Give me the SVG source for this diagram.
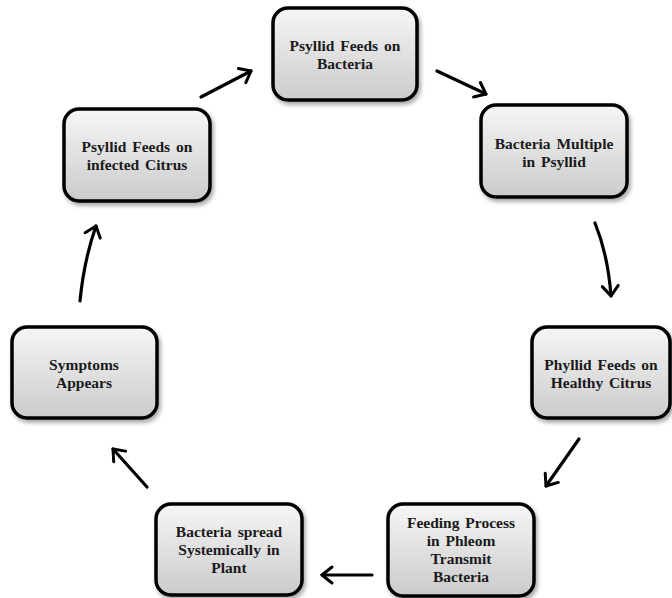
<svg xmlns="http://www.w3.org/2000/svg" width="672" height="598" viewBox="0 0 672 598">
<defs>
<linearGradient id="g" x1="0" y1="0" x2="0" y2="1">
<stop offset="0" stop-color="#f6f6f6"/>
<stop offset="1" stop-color="#cbcbcb"/>
</linearGradient>
<filter id="sh" x="-10%" y="-10%" width="130%" height="130%">
<feDropShadow dx="2" dy="3" stdDeviation="2" flood-color="#000" flood-opacity="0.35"/>
</filter>
<marker id="ah" markerWidth="10" markerHeight="10" refX="8" refY="5" orient="auto" markerUnits="userSpaceOnUse" viewBox="0 0 10 10" overflow="visible">
<path d="M-2,-3 L8,5 L-2,13" fill="none" stroke="#000" stroke-width="3" stroke-linecap="round" stroke-linejoin="round"/>
</marker>
</defs>
<style>
.box{fill:url(#g);stroke:#000;stroke-width:3.5;filter:url(#sh)}
.t{font-family:"Liberation Serif","Times New Roman",serif;font-weight:bold;font-size:15.5px;fill:#1a1a1a;text-anchor:middle;word-spacing:2px}
.c{fill:none;stroke:#000;stroke-width:3.2;stroke-linecap:round;marker-end:url(#ah)}
</style>
<rect width="672" height="598" fill="#fff"/>
<g id="connectors">
<path class="c" d="M201,97 L251,71"/>
<path class="c" d="M437,71 L486,94"/>
<path class="c" d="M595,223 Q608,255 611,296"/>
<path class="c" d="M579,439 L546,486"/>
<path class="c" d="M372,575 L322,575"/>
<path class="c" d="M147,487 L113,449"/>
<path class="c" d="M80,301 Q84,260 96,226"/>
</g>
<g id="n1">
<rect class="box" x="273" y="8" width="144" height="92" rx="15"/>
<text class="t" x="345" y="51">Psyllid Feeds on</text>
<text class="t" x="345" y="69">Bacteria</text>
</g>
<g id="n2">
<rect class="box" x="481" y="105" width="146" height="92" rx="15"/>
<text class="t" x="554" y="149">Bacteria Multiple</text>
<text class="t" x="554" y="167">in Psyllid</text>
</g>
<g id="n3">
<rect class="box" x="532" y="327" width="138" height="91" rx="15"/>
<text class="t" x="601" y="370">Phyllid Feeds on</text>
<text class="t" x="601" y="388">Healthy Citrus</text>
</g>
<g id="n4">
<rect class="box" x="388" y="504" width="146" height="92" rx="15"/>
<text class="t" x="461" y="528">Feeding Process</text>
<text class="t" x="461" y="546">in Phleom</text>
<text class="t" x="461" y="564">Transmit</text>
<text class="t" x="461" y="582">Bacteria</text>
</g>
<g id="n5">
<rect class="box" x="156" y="504" width="146" height="91" rx="15"/>
<text class="t" x="229" y="537">Bacteria spread</text>
<text class="t" x="229" y="555">Systemically in</text>
<text class="t" x="229" y="573">Plant</text>
</g>
<g id="n6">
<rect class="box" x="12" y="327" width="145" height="91" rx="15"/>
<text class="t" x="84" y="370">Symptoms</text>
<text class="t" x="84" y="388">Appears</text>
</g>
<g id="n7">
<rect class="box" x="64" y="109" width="146" height="92" rx="15"/>
<text class="t" x="137" y="152">Psyllid Feeds on</text>
<text class="t" x="137" y="170">infected Citrus</text>
</g>
</svg>
